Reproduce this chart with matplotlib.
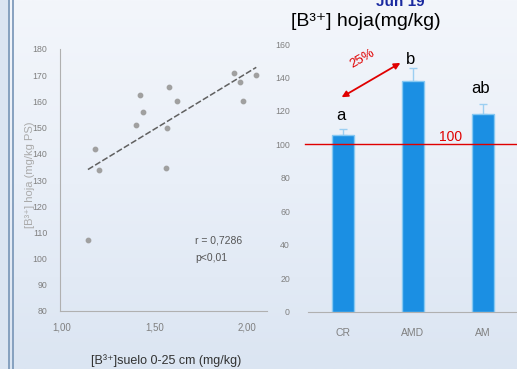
import numpy as np
import matplotlib
matplotlib.use("Agg")
import matplotlib.pyplot as plt
from matplotlib.colors import LinearSegmentedColormap

plt.rcParams['font.family'] = ['Liberation Sans', 'DejaVu Sans']

# scatter: soil B vs leaf B
suelo = [1.14, 1.18, 1.20, 1.40, 1.42, 1.44, 1.56, 1.57, 1.58, 1.62, 1.93, 1.96, 1.98, 2.05]
hoja = [107, 142, 134, 151, 162.5, 156, 134.5, 150, 165.5, 160, 171, 167.5, 160, 170]
trend_x = [1.14, 2.05]
trend_y = [134, 173]

# bars: leaf B by treatment
trat = ['CR', 'AMD', 'AM']
media = [105.5, 138, 118]
err = [3.5, 7.5, 6]
letras = ['a', 'b', 'ab']
letras_y = [117.5, 150.8, 133.5]

W, H = 517, 369
fig = plt.figure(figsize=(W/100, H/100), dpi=100)

# slide background
bg = fig.add_axes([0, 0, 1, 1], zorder=-5)
grad = np.linspace(0, 1, 256).reshape(-1, 1)
cm = LinearSegmentedColormap.from_list('bg', ['#f3f6fb', '#e9eff8', '#dbe5f2'])
bg.imshow(grad, aspect='auto', cmap=cm, extent=[0, 1, 0, 1])
bg.axvspan(0, 8/W, color='#dbe5f2')
bg.axvline(8.5/W, color='#7f9bbb', lw=1.3)
bg.axvline(13/W, color='#7f9bbb', lw=1.3)
bg.set_xlim(0, 1)
bg.set_ylim(0, 1)
bg.axis('off')

def px(x0, y0, x1, y1):
    return [x0/W, 1 - y1/H, (x1 - x0)/W, (y1 - y0)/H]

# left: scatter
ax = fig.add_axes(px(60, 49, 267, 311))
ax.patch.set_alpha(0)
ax.scatter(suelo, hoja, s=10, color='#a0a0a0', zorder=3)
ax.plot(trend_x, trend_y, color='#606060', lw=1.1, dashes=(4, 1.5), zorder=2)
ax.set_xlim(0.989, 2.108)
ax.set_ylim(80, 180)
ax.set_xticks([1.0, 1.5, 2.0])
ax.set_xticklabels(['1,00', '1,50', '2,00'])
ax.set_yticks(range(80, 181, 10))
ax.tick_params(length=0, labelsize=6.3, labelcolor='#808080')
ax.tick_params(axis='x', pad=8, labelsize=7)
ax.tick_params(axis='y', pad=9)
for s in ['top', 'right']:
    ax.spines[s].set_visible(False)
for s in ['left', 'bottom']:
    ax.spines[s].set_color('#b0b0b0')
    ax.spines[s].set_linewidth(0.8)
ax.text(1.72, 107, 'r = 0,7286', fontsize=7.5, color='#555555', va='center')
ax.text(1.72, 100.2, 'p<0,01', fontsize=7.5, color='#555555', va='center')
fig.text(30/W, 1 - 175/H, '[B³⁺] hoja (mg/kg PS)', rotation=90,
         fontsize=8, color='#aaaaaa', ha='center', va='center')
fig.text(166/W, 1 - 361/H, '[B³⁺]suelo 0-25 cm (mg/kg)',
         fontsize=9, color='#333333', ha='center', va='center')

# right: bars
bx = fig.add_axes(px(308, 44, 518, 311.7))
bx.patch.set_alpha(0)
pos = np.arange(len(trat))
bx.bar(pos, media, width=0.31, color='#1b8fe3', edgecolor='#86c8f2', lw=1, zorder=2)
bx.errorbar(pos, media, yerr=[[0]*3, err], fmt='none', ecolor='#9ccff2',
            elinewidth=1, capsize=3, zorder=1)
bx.axhline(100, xmin=-0.015, xmax=1, color='#e00000', lw=1, clip_on=False, zorder=3)
bx.set_xlim(-0.5, 2.5)
bx.set_ylim(0, 160)
bx.set_yticks(range(0, 161, 20))
bx.set_xticks(pos)
bx.set_xticklabels(trat)
bx.tick_params(length=0, labelcolor='#808080')
bx.tick_params(axis='y', labelsize=6.3, pad=13)
bx.tick_params(axis='x', labelsize=7.5, pad=12)
for s in ['top', 'right', 'left']:
    bx.spines[s].set_visible(False)
bx.spines['bottom'].set_color('#b0b0b0')
bx.spines['bottom'].set_linewidth(0.8)
for i, l in enumerate(letras):
    bx.text(pos[i] - 0.03, letras_y[i], l, fontsize=12, ha='center', va='center', color='black')
bx.text(1.53, 104.5, '100', fontsize=10, color='#e00000', ha='center', va='center')
bx.annotate('', xy=(-0.02, 128.2), xytext=(0.82, 148.7),
            arrowprops=dict(arrowstyle='<|-|>', color='#e00000', lw=1.3,
                            mutation_scale=9, shrinkA=0, shrinkB=0))
bx.text(0.27, 151, '25%', fontsize=9.5, color='#e00000', rotation=30,
        ha='center', va='center')

fig.text(366/W, 1 - 22/H, '[B³⁺] hoja(mg/kg)', fontsize=14,
         color='black', ha='center', va='center')
fig.text(400/W, 1 - 2/H, 'Jun 19', fontsize=11, fontweight='bold', color='#1a2aa0',
         ha='center', va='center')

fig.savefig('out.png', dpi=100)
